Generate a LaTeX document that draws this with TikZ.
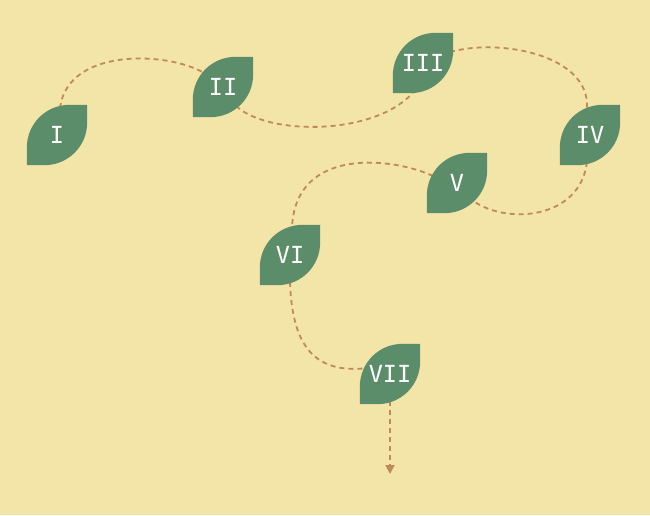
\documentclass[tikz,border=0pt]{standalone}
\usepackage{fontspec}
\newfontfamily\leaffont{DejaVu Sans Mono}
\usetikzlibrary{calc,backgrounds,arrows.meta}
\definecolor{bgcol}{RGB}{243,228,168}
\definecolor{leafcol}{RGB}{92,141,106}
\definecolor{pathcol}{RGB}{192,138,86}
\begin{document}
\begin{tikzpicture}[x=1pt,y=-1pt,
  leaf/.style={minimum size=60pt,inner sep=0pt,text=white,font=\leaffont\fontsize{23.5}{23.5}\selectfont},
  trail/.style={draw=pathcol,line width=1.8pt,dash pattern=on 5pt off 4pt}]
\node[leaf] (n1) at (57,135) {I};
\node[leaf] (n2) at (223,87) {II};
\node[leaf] (n3) at (423,63) {III};
\node[leaf] (n4) at (590,135) {IV};
\node[leaf] (n5) at (457,183) {V};
\node[leaf] (n6) at (290,255) {VI};
\node[leaf] (n7) at (390,374) {VII};
\coordinate (tail) at (390,474);
\begin{scope}[on background layer]
  \fill[bgcol] (0,0) rectangle (650,515);
  \draw[trail] ($(n1)+(3,-27)$) .. controls ($(n1)+(11,-90)$) and ($(n2)+(-48,-35)$) .. ($(n2)+(-16,-12)$);
  \draw[trail] ($(n2)+(13,19)$) .. controls ($(n2)+(47,50)$) and ($(n3)+(-43,72)$) .. ($(n3)+(-8,27)$);
  \draw[trail] ($(n3)+(27,-11)$) .. controls ($(n3)+(77,-25)$) and ($(n4)+(0,-80)$) .. ($(n4)+(-3,-27)$);
  \draw[trail] ($(n4)+(-3,27)$) .. controls ($(n4)+(-10,85)$) and ($(n5)+(48,42)$) .. ($(n5)+(15,17)$);
  \draw[trail] ($(n5)+(-24,-7)$) .. controls ($(n5)+(-62,-25)$) and ($(n6)+(5,-110)$) .. ($(n6)+(2,-27)$);
  \draw[trail] ($(n6)+(0,27)$) .. controls ($(n6)+(2,85)$) and ($(n7)+(-80,1)$) .. ($(n7)+(-22,-6)$);
  \draw[trail,-{Triangle[length=9pt,width=9pt]}] ($(n7)+(0,27)$) -- (tail);
  \foreach \n in {n1,n2,n3,n4,n5,n6,n7}{
    \fill[leafcol] (\n.south west) -- ($(\n.north west)+(0,43)$)
      .. controls ($(\n.north west)+(0,19)$) and ($(\n.north west)+(19,0)$) .. ($(\n.north west)+(43,0)$)
      -- (\n.north east) -- ($(\n.south east)+(0,-43)$)
      .. controls ($(\n.south east)+(0,-19)$) and ($(\n.south east)+(-19,0)$) .. ($(\n.south east)+(-43,0)$)
      -- cycle;
  }
\end{scope}
\end{tikzpicture}
\end{document}
